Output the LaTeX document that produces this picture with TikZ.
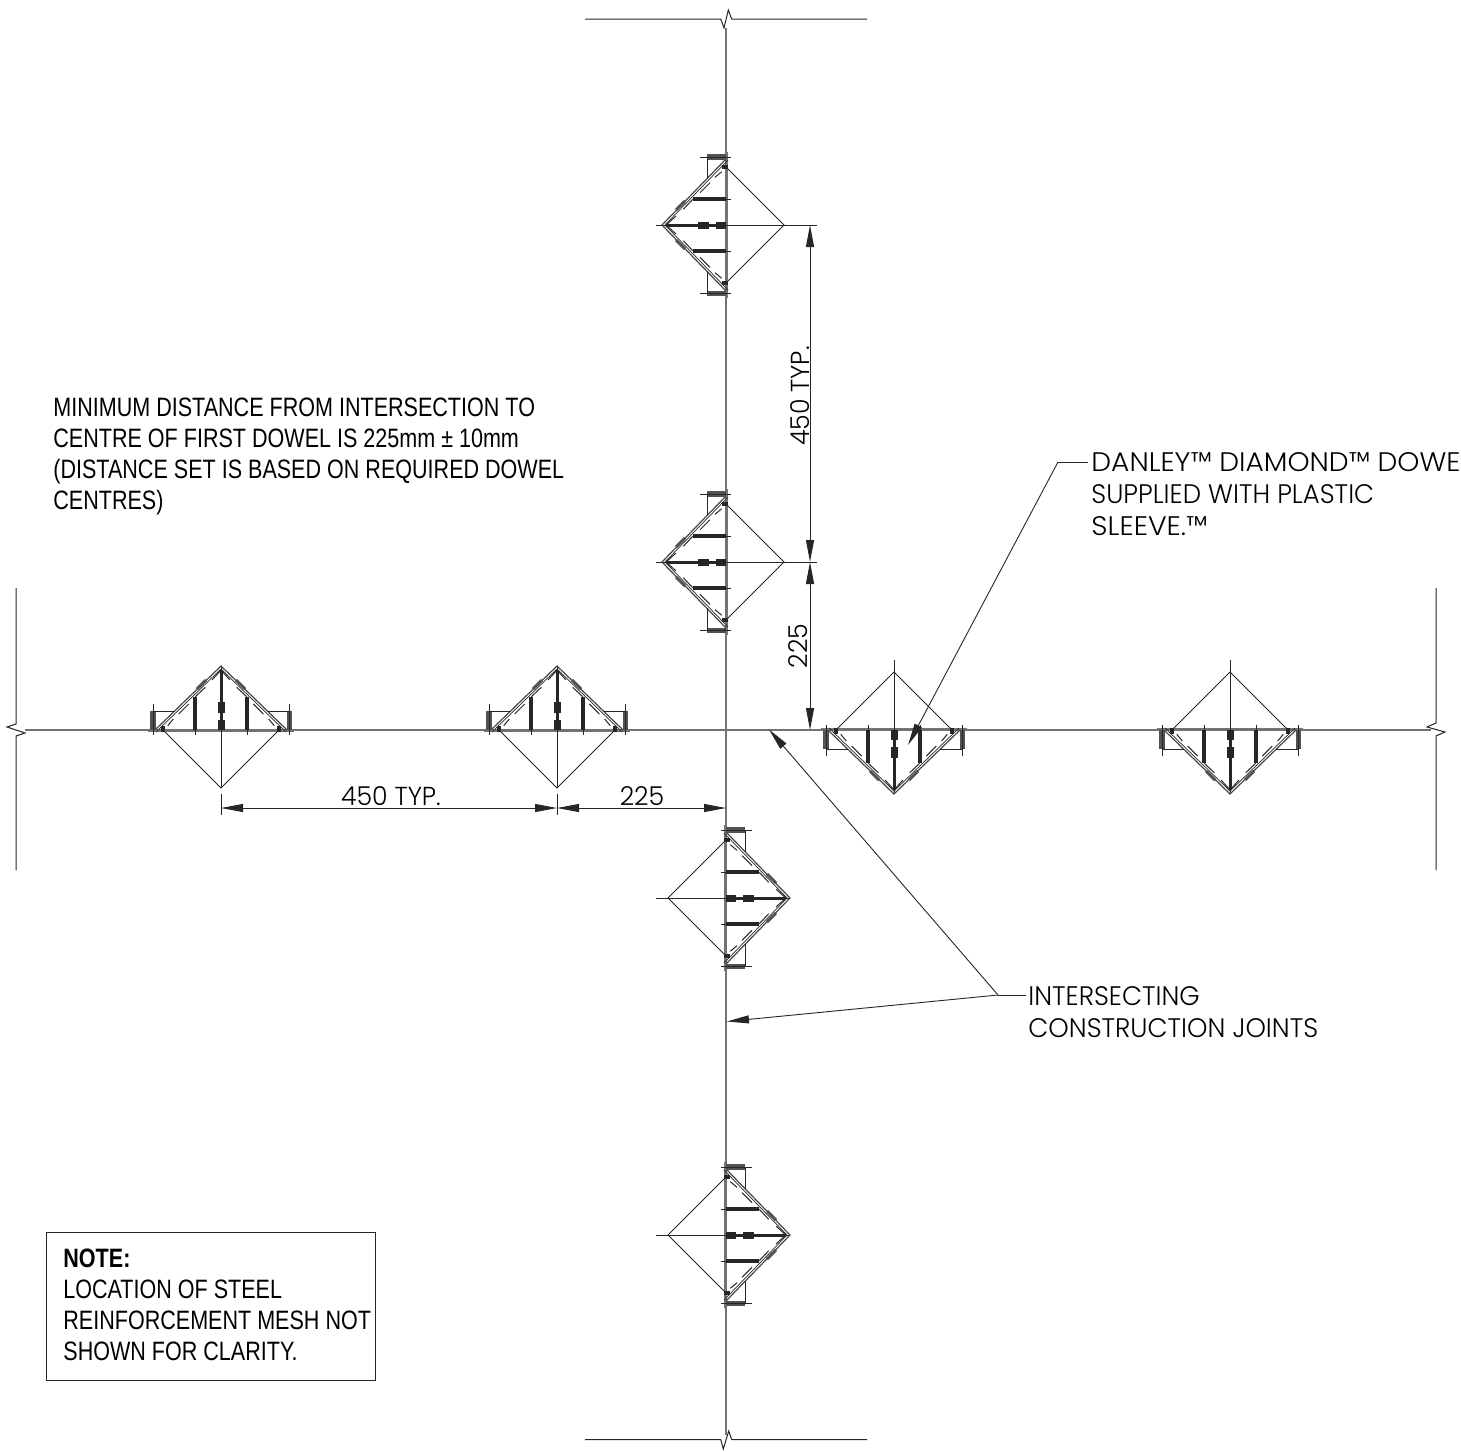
\documentclass[tikz,border=0pt]{standalone}
\usepackage{fontspec}
\usetikzlibrary{arrows.meta}
\setmainfont{Liberation Sans}
\newfontfamily\narrowfont[FakeStretch=0.81]{Liberation Sans}
\newfontfamily\gothicfont[UprightFeatures={FakeStretch=0.97}]{Poppins Light}
\definecolor{ink}{gray}{0.15}
\definecolor{plate}{gray}{0.45}
\tikzset{
  thinline/.style={line width=0.5pt,draw=ink},
  jointline/.style={line width=0.7pt,draw=plate},
  barline/.style={line width=1.7pt,draw=ink},
  leader/.style={line width=0.45pt,draw=ink,-{Triangle[length=11pt,width=4pt]}},
  dimarrow/.style={line width=0.5pt,draw=ink,{Triangle[length=11pt,width=4pt]}-{Triangle[length=11pt,width=4pt]}},
  narrowtext/.style={font=\fontsize{13.3}{15.5}\selectfont\narrowfont,text=black,inner sep=0pt,align=left},
  gothictext/.style={font=\fontsize{13.4}{16}\selectfont\gothicfont,text=black,inner sep=0pt,align=left},
  dimtext/.style={font=\fontsize{13}{16}\selectfont\gothicfont,text=black,inner sep=0pt}
}
% one dowel: local frame has joint along v, apex at u = -64
\newcommand{\dowelat}[4]{%
\begin{scope}[shift={(#1,#2)},x={#3},y={#4}]
  \draw[line width=1pt,draw=plate] (1,-73) -- (1,73);
  \draw[thinline] (0,-58) -- (58,0) -- (0,58);
  \draw[thinline] (-64,0) -- (58,0);
  \draw[line width=1.5pt,draw=ink] (-60,0) -- (0,0);
  \fill[ink] (-28,-3.5) rectangle (-17,3.5);
  \fill[ink] (-10,-3.5) rectangle (0,3.5);
  % outer double diagonals
  \draw[line width=0.6pt,draw=ink!85] (0,-66) -- (-64,0) -- (0,66);
  \draw[line width=0.35pt,draw=ink] (2,-65) -- (-61,0) -- (2,65);
  \draw[line width=1.5pt,draw=ink!80] (-50,-15) -- (-41,-24);
  \draw[line width=1.5pt,draw=ink!80] (-50,15) -- (-41,24);
  % inner dashed diagonals
  \foreach \s in {1,-1}{
    \draw[thinline] (-4.3,\s*-53.3) -- (-11,\s*-47.7);
    \draw[thinline] (-16,\s*-42.3) -- (-26,\s*-32.3);
    \draw[thinline] (-33.3,\s*-25.7) -- (-42.7,\s*-15.7);
    \draw[thinline] (-50,\s*-9) -- (-58.7,\s*-1);
    % rungs
    \draw[barline] (-33,\s*26) -- (0,\s*26);
    \draw[thinline] (0,\s*26) -- (5,\s*26);
    \draw[barline] (-4,\s*58) -- (2,\s*58);
    % end brackets
    \fill[ink!80] (-19,\s*65.5) rectangle (0,\s*71);
    \draw[thinline] (-26,\s*68) -- (5,\s*68);
    \draw[thinline] (-19,\s*68) -- (-19,\s*46);
  }
\end{scope}}
\begin{document}
\begin{tikzpicture}[x=0.5pt,y=-0.5pt]
\useasboundingbox (0,0) rectangle (1461,1451);
\clip (0,0) rectangle (1461,1451);
% slab edges with break marks
\draw[thinline] (585,19) -- (720.7,19) -- (724,28) -- (728.3,10) -- (731.7,19) -- (867,19);
\draw[thinline] (585,1439.5) -- (720.7,1439.5) -- (723.3,1449) -- (728.7,1431) -- (731.7,1439.5) -- (867,1439.5);
\draw[thinline] (16,588) -- (16,724) -- (7,727) -- (25,733) -- (16,736) -- (16,870);
\draw[thinline] (1436,588) -- (1436,723) -- (1427,727) -- (1445,732) -- (1436,736) -- (1436,870);
% joints
\draw[jointline] (726,28) -- (726,1435);
\draw[jointline] (25,730) -- (1431,730);
% dowels
\dowelat{726}{225}{(0.5pt,0pt)}{(0pt,-0.5pt)}
\dowelat{726}{562}{(0.5pt,0pt)}{(0pt,-0.5pt)}
\dowelat{726}{898}{(-0.5pt,0pt)}{(0pt,-0.5pt)}
\dowelat{726}{1235}{(-0.5pt,0pt)}{(0pt,-0.5pt)}
\dowelat{221}{730}{(0pt,-0.5pt)}{(0.5pt,0pt)}
\dowelat{557}{730}{(0pt,-0.5pt)}{(0.5pt,0pt)}
\dowelat{894}{730}{(0pt,0.5pt)}{(0.5pt,0pt)}
\dowelat{1230}{730}{(0pt,0.5pt)}{(0.5pt,0pt)}
% centre line extensions
\draw[thinline] (656,225) -- (662,225);
\draw[thinline] (656,562) -- (662,562);
\draw[thinline] (784,225) -- (817,225);
\draw[thinline] (784,562) -- (817,562);
\draw[thinline] (656,898) -- (668,898);
\draw[thinline] (656,1235) -- (668,1235);
\draw[thinline] (221,794) -- (221,815);
\draw[thinline] (557,794) -- (557,815);
\draw[thinline] (894,660) -- (894,672);
\draw[thinline] (1230,660) -- (1230,672);
% dimensions
\coordinate (dv1) at (810,225);
\coordinate (dv2) at (810,562);
\coordinate (dv3) at (810,730);
\coordinate (dh1) at (221,808);
\coordinate (dh2) at (557,808);
\coordinate (dh3) at (726,808);
\draw[dimarrow] (dv1) -- (dv2);
\draw[dimarrow] (dv2) -- (dv3);
\draw[dimarrow] (dh1) -- (dh2);
\draw[dimarrow] (dh2) -- (dh3);
\node[dimtext,rotate=90,anchor=center] (t450v) at (800,396) {450 TYP.};
\node[dimtext,rotate=90,anchor=center] (t225v) at (798,646) {225};
\node[dimtext,anchor=center] (t450h) at (391,796) {450 TYP.};
\node[dimtext,anchor=center] (t225h) at (642,796) {225};
% labels
\node[narrowtext,anchor=north west] (mindist) at (53,398) {MINIMUM DISTANCE FROM INTERSECTION TO\\CENTRE OF FIRST DOWEL IS 225mm ± 10mm\\(DISTANCE SET IS BASED ON REQUIRED DOWEL\\CENTRES)};
\node[gothictext,anchor=north west] (danley) at (1091,452.5) {\scalebox{1.08}[1]{DANLEY™ DIAMOND™ DOWE}\\SUPPLIED WITH PLASTIC\\\scalebox{1.09}[1]{SLEEVE.™}};
\node[gothictext,anchor=north west] (inter) at (1028,986.5) {INTERSECTING\\CONSTRUCTION JOINTS};
\node[draw=ink,line width=0.5pt,minimum width=164.5pt,minimum height=74pt,anchor=north west,inner sep=0pt] (notebox) at (46,1232) {};
\node[narrowtext,anchor=north west] (note) at (63,1249) {\textbf{NOTE:}\\LOCATION OF STEEL\\REINFORCEMENT MESH NOT\\SHOWN FOR CLARITY.};
% leaders
\coordinate (k1) at (1058,462);
\coordinate (k2) at (998,995);
\coordinate (tipA) at (908,745);
\coordinate (tipB) at (769,729.5);
\coordinate (tipC) at (727,1021.5);
\draw[thinline] (1088,462) -- (k1);
\draw[leader] (k1) -- (tipA);
\draw[thinline] (1026,995) -- (k2);
\draw[leader] (k2) -- (tipB);
\draw[leader] (k2) -- (tipC);
\end{tikzpicture}
\end{document}
